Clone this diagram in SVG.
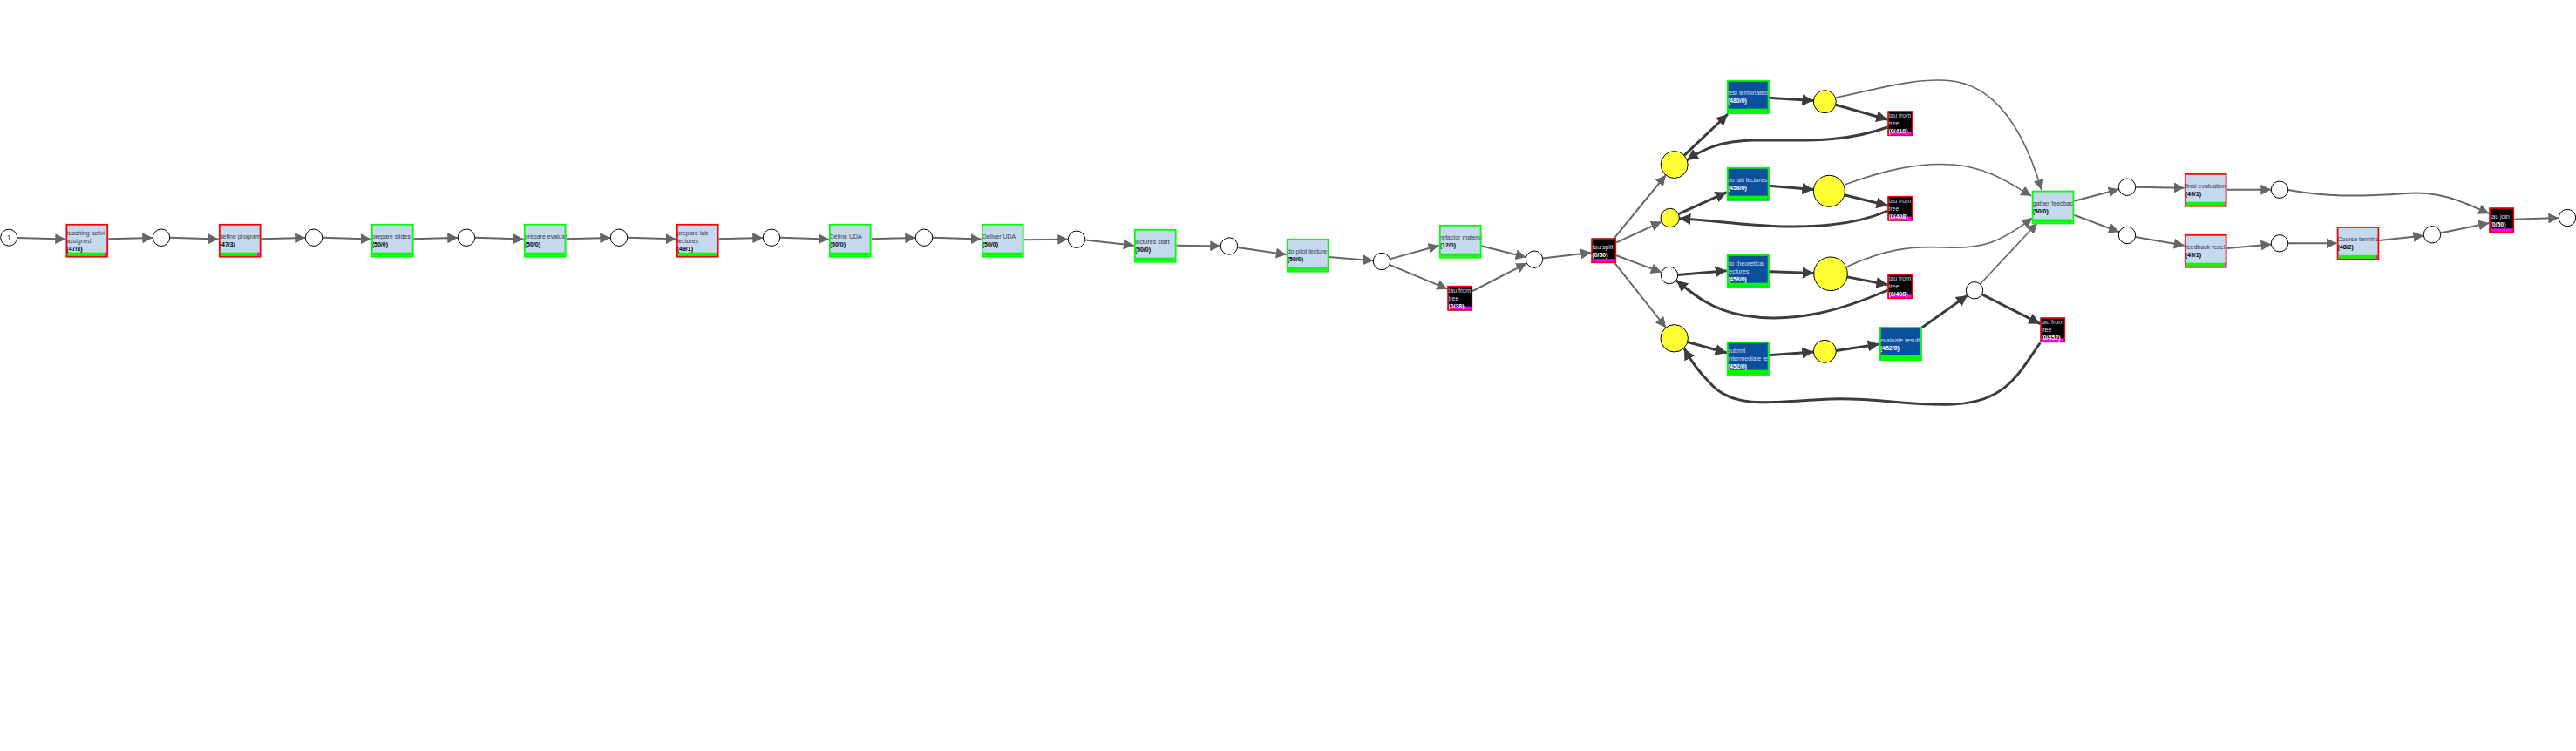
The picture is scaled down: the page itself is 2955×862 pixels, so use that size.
<svg xmlns="http://www.w3.org/2000/svg" width="2955" height="862" viewBox="0 0 2955 862">
<style>
.nm{font-family:"Liberation Sans",Arial,sans-serif;font-size:7px}
.ct{font-family:"Liberation Sans",Arial,sans-serif;font-size:7px;font-weight:bold}
.lt .nm{fill:#3a3a46}.lt .ct{fill:#000}
.dk .nm{fill:#d6ddf5}.dk .ct{fill:#fff}
.lf{fill:#c5d9ee}.df{fill:#0a509c}.tf{fill:#000}
.bg{fill:#00ff00}.bm{fill:#ff00ff}
.br{fill:none;stroke:#ff0000;stroke-width:2}
.bgr{fill:none;stroke:#00ff00;stroke-width:2}
.brt{fill:none;stroke:#ff0000;stroke-width:1.5}
.pl{fill:#fff;stroke:#000;stroke-width:1}
.py{fill:#ffff33;stroke:#000;stroke-width:1}
.e{fill:none;stroke:#666;stroke-width:2;marker-end:url(#ag)}
.c{fill:none;stroke:#666;stroke-width:1.6;marker-end:url(#ag)}
.d{fill:none;stroke:#3c3c3c;stroke-width:3;marker-end:url(#ad)}
</style>
<defs>
<marker id="ag" markerUnits="userSpaceOnUse" markerWidth="12" markerHeight="12" refX="12" refY="6" orient="auto"><path d="M0,0 L12,6 L0,12 z" fill="#666"/></marker>
<marker id="ad" markerUnits="userSpaceOnUse" markerWidth="13" markerHeight="13" refX="13" refY="6.5" orient="auto"><path d="M0,0 L13,6.5 L0,13 z" fill="#3c3c3c"/></marker>
</defs>
<rect width="2955" height="862" fill="#fff"/>
<g id="connectors">
<path class="e" d="M20,273 L75.3,274.5"/>
<path class="e" d="M124.3,274.3 L175.3,272.9"/>
<path class="e" d="M194.7,272.7 L250.7,274.5"/>
<path class="e" d="M299.3,274.3 L350.3,272.9"/>
<path class="e" d="M369.7,272.7 L425.7,274.5"/>
<path class="e" d="M474.3,274.3 L525.3,272.9"/>
<path class="e" d="M544.7,272.7 L600.7,274.5"/>
<path class="e" d="M649.7,274.3 L700.3,272.9"/>
<path class="e" d="M719.7,272.7 L775.7,274.5"/>
<path class="e" d="M824.3,274.3 L875.3,272.9"/>
<path class="e" d="M894.7,272.7 L950.7,274.5"/>
<path class="e" d="M999.7,274.3 L1050.3,272.9"/>
<path class="e" d="M1069.7,272.7 L1125.7,274.5"/>
<path class="e" d="M1174.3,275.3 L1225.3,274.7"/>
<path class="e" d="M1244.7,275.4 L1300.7,281.7"/>
<path class="e" d="M1349.3,281.7 L1400.3,282.4"/>
<path class="e" d="M1419.6,284 L1475.7,292.3"/>
<path class="e" d="M1524.3,295 L1575.4,299.3"/>
<path class="e" d="M1594.3,297.4 L1650.7,281.7"/>
<path class="e" d="M1593.9,303.8 L1660.3,331.7"/>
<path class="e" d="M1699.3,282.3 L1750.6,295.3"/>
<path class="e" d="M1689.3,334 L1751.4,302.1"/>
<path class="e" d="M1769.6,296.6 L1825.3,290"/>
<path class="e" d="M1851.7,273.3 L1910.9,201"/>
<path class="e" d="M1854.3,278.3 L1906,254.5"/>
<path class="e" d="M1854.3,293.3 L1905.9,312.6"/>
<path class="e" d="M1852.7,302.3 L1911,376"/>
<path class="d" d="M1932,178.4 L1982,131"/>
<path class="d" d="M2029.3,112.3 L2080.3,115.6"/>
<path class="d" d="M2105.8,120.3 L2165.3,137.3"/>
<path class="d" d="M1925.5,245.6 L1980.7,220.7"/>
<path class="d" d="M2029.3,213.3 L2080.3,217.6"/>
<path class="d" d="M2115.8,223.7 L2165.3,236"/>
<path class="d" d="M1924.7,315.4 L1980.7,310.7"/>
<path class="d" d="M2029.3,311.7 L2080.7,313.6"/>
<path class="d" d="M2119,317.9 L2165.3,326.7"/>
<path class="d" d="M1935.8,392.5 L1980.7,405"/>
<path class="d" d="M2029.3,407.7 L2080.3,404"/>
<path class="d" d="M2106.3,402.5 L2155.7,395"/>
<path class="d" d="M2204.7,376 L2257.1,338.9"/>
<path class="d" d="M2273.6,337.8 L2340.3,371.7"/>
<path class="d" d="M2165.3,146 C2110,166 2060,160 2010,161 C1975,162 1955,170 1935,184"/>
<path class="d" d="M2165.3,242 C2120,262 2060,262 2010,258 C1975,255 1950,252 1926.4,250.7"/>
<path class="d" d="M2165.3,333 C2115,355 2060,372 2000,362 C1965,356 1945,340 1923,322"/>
<path class="d" d="M2340.3,393.5 C2315,430 2300,462 2240,464 C2190,466 2150,456 2100,458 C2040,460 1990,472 1962,440 C1950,428 1940,415 1932,400"/>
<path class="c" d="M2106,112 C2150,103 2200,88 2240,93 C2290,100 2322,150 2342,218.3"/>
<path class="c" d="M2116,212 C2160,196 2200,186 2240,189 C2280,192 2305,210 2330.3,225"/>
<path class="c" d="M2119,306 C2160,287 2190,282 2230,284 C2275,286 2295,278 2331.5,250"/>
<path class="c" d="M2271.5,326 L2337,256"/>
<path class="e" d="M2379.3,230.7 L2430.6,217.2"/>
<path class="e" d="M2379.3,246.7 L2431,266.3"/>
<path class="e" d="M2449.7,214.7 L2505.7,215.7"/>
<path class="e" d="M2554.3,217.7 L2605.3,217.7"/>
<path class="e" d="M2449.5,272 L2505.7,281.7"/>
<path class="e" d="M2554.3,285 L2605.5,280.5"/>
<path class="e" d="M2624.7,279.3 L2680.5,279.3"/>
<path class="e" d="M2624.7,218 C2670,226 2700,226 2760,222 C2800,219 2825,232 2855.3,245"/>
<path class="e" d="M2729.3,276 L2780.4,270.5"/>
<path class="e" d="M2799.5,267.4 L2855.3,256"/>
<path class="e" d="M2884.3,251.7 L2935.3,250.1"/>
</g>
<g id="places">
<g id="p0"><circle class="pl" cx="10.2" cy="272.7" r="9.5"/><text x="10.2" y="276" text-anchor="middle" font-family="Liberation Sans, Arial, sans-serif" font-size="9" fill="#333">1</text></g>
<g id="p1"><circle class="pl" cx="185" cy="272.7" r="9.7"/></g>
<g id="p2"><circle class="pl" cx="360" cy="272.7" r="9.7"/></g>
<g id="p3"><circle class="pl" cx="535" cy="272.7" r="9.7"/></g>
<g id="p4"><circle class="pl" cx="710" cy="272.7" r="9.7"/></g>
<g id="p5"><circle class="pl" cx="885" cy="272.7" r="9.7"/></g>
<g id="p6"><circle class="pl" cx="1060" cy="272.7" r="9.7"/></g>
<g id="p7"><circle class="pl" cx="1235" cy="274.7" r="9.7"/></g>
<g id="p8"><circle class="pl" cx="1410" cy="282.5" r="9.7"/></g>
<g id="p9"><circle class="pl" cx="1585" cy="300" r="9.7"/></g>
<g id="p10"><circle class="pl" cx="1760" cy="297.7" r="9.7"/></g>
<g id="y1"><circle class="py" cx="1920.7" cy="189" r="15.5"/></g>
<g id="y1b"><circle class="py" cx="2093.3" cy="116.7" r="13"/></g>
<g id="y2"><circle class="py" cx="1915.7" cy="250" r="10.7"/></g>
<g id="y2b"><circle class="py" cx="2098.3" cy="219.3" r="18"/></g>
<g id="w1"><circle class="pl" cx="1915" cy="316" r="9.7"/></g>
<g id="y3b"><circle class="py" cx="2100" cy="314.3" r="19.3"/></g>
<g id="y4"><circle class="py" cx="1920.7" cy="388.3" r="15.7"/></g>
<g id="y4b"><circle class="py" cx="2093.3" cy="403.3" r="13"/></g>
<g id="w2"><circle class="pl" cx="2265" cy="333.3" r="9.7"/></g>
<g id="pa"><circle class="pl" cx="2440" cy="214.7" r="9.7"/></g>
<g id="pb"><circle class="pl" cx="2440" cy="270" r="9.7"/></g>
<g id="pc"><circle class="pl" cx="2615" cy="217.7" r="9.7"/></g>
<g id="pd"><circle class="pl" cx="2615" cy="279.3" r="9.7"/></g>
<g id="pe"><circle class="pl" cx="2790" cy="269.3" r="9.7"/></g>
<g id="pend"><circle class="pl" cx="2945" cy="250" r="9.7"/></g>
</g>
<g id="t1" class="lt"><svg x="75.3" y="256.7" width="49" height="39"><rect class="lf" width="49" height="39"/><rect class="bg" x="2" y="33" width="42.3" height="4"/><rect class="bm" x="44.3" y="33" width="2.7" height="4"/><text class="nm" x="1" y="13">teaching activi</text><text class="nm" x="1" y="22">assigned</text><text class="ct" x="1" y="31">(47/3)</text><rect class="br" x="1" y="1" width="47" height="37"/></svg></g>
<g id="t2" class="lt"><svg x="250.7" y="256.7" width="49" height="39"><rect class="lf" width="49" height="39"/><rect class="bg" x="2" y="33" width="42.3" height="4"/><rect class="bm" x="44.3" y="33" width="2.7" height="4"/><text class="nm" x="1" y="17.5">define program</text><text class="ct" x="1" y="26.5">(47/3)</text><rect class="br" x="1" y="1" width="47" height="37"/></svg></g>
<g id="t3" class="lt"><svg x="425.7" y="256.7" width="49" height="39"><rect class="lf" width="49" height="39"/><rect class="bg" x="2" y="33" width="45" height="4"/><text class="nm" x="1" y="17.5">prepare slides</text><text class="ct" x="1" y="26.5">(50/0)</text><rect class="bgr" x="1" y="1" width="47" height="37"/></svg></g>
<g id="t4" class="lt"><svg x="600.7" y="256.7" width="49" height="39"><rect class="lf" width="49" height="39"/><rect class="bg" x="2" y="33" width="45" height="4"/><text class="nm" x="1" y="17.5">prepare evaluat</text><text class="ct" x="1" y="26.5">(50/0)</text><rect class="bgr" x="1" y="1" width="47" height="37"/></svg></g>
<g id="t5" class="lt"><svg x="775.7" y="256.7" width="49" height="39"><rect class="lf" width="49" height="39"/><rect class="bg" x="2" y="33" width="44.1" height="4"/><rect class="bm" x="46.1" y="33" width="0.9" height="4"/><text class="nm" x="1" y="13">prepare lab</text><text class="nm" x="1" y="22">lectures</text><text class="ct" x="1" y="31">(49/1)</text><rect class="br" x="1" y="1" width="47" height="37"/></svg></g>
<g id="t6" class="lt"><svg x="950.7" y="256.7" width="49" height="39"><rect class="lf" width="49" height="39"/><rect class="bg" x="2" y="33" width="45" height="4"/><text class="nm" x="1" y="17.5">Define UDA</text><text class="ct" x="1" y="26.5">(50/0)</text><rect class="bgr" x="1" y="1" width="47" height="37"/></svg></g>
<g id="t7" class="lt"><svg x="1125.7" y="256.7" width="49" height="39"><rect class="lf" width="49" height="39"/><rect class="bg" x="2" y="33" width="45" height="4"/><text class="nm" x="1" y="17.5">Deliver UDA</text><text class="ct" x="1" y="26.5">(50/0)</text><rect class="bgr" x="1" y="1" width="47" height="37"/></svg></g>
<g id="t8" class="lt"><svg x="1300.7" y="262.7" width="49" height="39"><rect class="lf" width="49" height="39"/><rect class="bg" x="2" y="33" width="45" height="4"/><text class="nm" x="1" y="17.5">lectures start</text><text class="ct" x="1" y="26.5">(50/0)</text><rect class="bgr" x="1" y="1" width="47" height="37"/></svg></g>
<g id="t9" class="lt"><svg x="1475.7" y="273.7" width="49" height="39"><rect class="lf" width="49" height="39"/><rect class="bg" x="2" y="33" width="45" height="4"/><text class="nm" x="1" y="17.5">do pilot lecture</text><text class="ct" x="1" y="26.5">(50/0)</text><rect class="bgr" x="1" y="1" width="47" height="37"/></svg></g>
<g id="t10" class="lt"><svg x="1650.7" y="257.7" width="49" height="39"><rect class="lf" width="49" height="39"/><rect class="bg" x="2" y="33" width="45" height="4"/><text class="nm" x="1" y="17.5">refactor materia</text><text class="ct" x="1" y="26.5">(12/0)</text><rect class="bgr" x="1" y="1" width="47" height="37"/></svg></g>
<g id="tau1" class="dk"><svg x="1660.3" y="327.7" width="29" height="29"><rect class="tf" width="29" height="29"/><rect class="bm" x="1.5" y="24" width="26" height="3.5"/><text class="nm" x="1" y="8">tau from</text><text class="nm" x="1" y="17">tree</text><text class="ct" x="1" y="26">(0/38)</text><rect class="brt" x="0.75" y="0.75" width="27.5" height="27.5"/></svg></g>
<g id="tausplit" class="dk"><svg x="1825.3" y="273.3" width="29" height="29"><rect class="tf" width="29" height="29"/><rect class="bm" x="1.5" y="24" width="26" height="3.5"/><text class="nm" x="1" y="12.5">tau split</text><text class="ct" x="1" y="21.5">(0/50)</text><rect class="brt" x="0.75" y="0.75" width="27.5" height="27.5"/></svg></g>
<g id="b1" class="dk"><svg x="1980.7" y="91.7" width="49" height="39"><rect class="df" width="49" height="39"/><rect class="bg" x="2" y="33" width="45" height="4"/><text class="nm" x="1" y="17.5">test terminated</text><text class="ct" x="1" y="26.5">(480/0)</text><rect class="bgr" x="1" y="1" width="47" height="37"/></svg></g>
<g id="tau2" class="dk"><svg x="2165.3" y="127.3" width="29" height="29"><rect class="tf" width="29" height="29"/><rect class="bm" x="1.5" y="24" width="26" height="3.5"/><text class="nm" x="1" y="8">tau from</text><text class="nm" x="1" y="17">tree</text><text class="ct" x="1" y="26">(0/410)</text><rect class="brt" x="0.75" y="0.75" width="27.5" height="27.5"/></svg></g>
<g id="b2" class="dk"><svg x="1980.7" y="191.7" width="49" height="39"><rect class="df" width="49" height="39"/><rect class="bg" x="2" y="33" width="45" height="4"/><text class="nm" x="1" y="17.5">do lab lectures</text><text class="ct" x="1" y="26.5">(458/0)</text><rect class="bgr" x="1" y="1" width="47" height="37"/></svg></g>
<g id="tau3" class="dk"><svg x="2165.3" y="224.7" width="29" height="29"><rect class="tf" width="29" height="29"/><rect class="bm" x="1.5" y="24" width="26" height="3.5"/><text class="nm" x="1" y="8">tau from</text><text class="nm" x="1" y="17">tree</text><text class="ct" x="1" y="26">(0/408)</text><rect class="brt" x="0.75" y="0.75" width="27.5" height="27.5"/></svg></g>
<g id="b3" class="dk"><svg x="1980.7" y="291.7" width="49" height="39"><rect class="df" width="49" height="39"/><rect class="bg" x="2" y="33" width="45" height="4"/><text class="nm" x="1" y="13">do theoretical</text><text class="nm" x="1" y="22">lectures</text><text class="ct" x="1" y="31">(458/0)</text><rect class="bgr" x="1" y="1" width="47" height="37"/></svg></g>
<g id="tau4" class="dk"><svg x="2165.3" y="314.3" width="29" height="29"><rect class="tf" width="29" height="29"/><rect class="bm" x="1.5" y="24" width="26" height="3.5"/><text class="nm" x="1" y="8">tau from</text><text class="nm" x="1" y="17">tree</text><text class="ct" x="1" y="26">(0/408)</text><rect class="brt" x="0.75" y="0.75" width="27.5" height="27.5"/></svg></g>
<g id="b4" class="dk"><svg x="1980.7" y="391.7" width="49" height="39"><rect class="df" width="49" height="39"/><rect class="bg" x="2" y="33" width="45" height="4"/><text class="nm" x="1" y="13">submit</text><text class="nm" x="1" y="22">intermediate te</text><text class="ct" x="1" y="31">(452/0)</text><rect class="bgr" x="1" y="1" width="47" height="37"/></svg></g>
<g id="b5" class="dk"><svg x="2155.7" y="375" width="49" height="39"><rect class="df" width="49" height="39"/><rect class="bg" x="2" y="33" width="45" height="4"/><text class="nm" x="1" y="17.5">evaluate results</text><text class="ct" x="1" y="26.5">(452/0)</text><rect class="bgr" x="1" y="1" width="47" height="37"/></svg></g>
<g id="tau5" class="dk"><svg x="2340.3" y="364.3" width="29" height="29"><rect class="tf" width="29" height="29"/><rect class="bm" x="1.5" y="24" width="26" height="3.5"/><text class="nm" x="1" y="8">tau from</text><text class="nm" x="1" y="17">tree</text><text class="ct" x="1" y="26">(0/452)</text><rect class="brt" x="0.75" y="0.75" width="27.5" height="27.5"/></svg></g>
<g id="gather" class="lt"><svg x="2330.5" y="218.5" width="49" height="39"><rect class="lf" width="49" height="39"/><rect class="bg" x="2" y="33" width="45" height="4"/><text class="nm" x="1" y="17.5">gather feedbac</text><text class="ct" x="1" y="26.5">(50/0)</text><rect class="bgr" x="1" y="1" width="47" height="37"/></svg></g>
<g id="final" class="lt"><svg x="2505.7" y="198.7" width="49" height="39"><rect class="lf" width="49" height="39"/><rect class="bg" x="2" y="33" width="44.1" height="4"/><rect class="bm" x="46.1" y="33" width="0.9" height="4"/><text class="nm" x="1" y="17.5">final evaluation</text><text class="ct" x="1" y="26.5">(49/1)</text><rect class="br" x="1" y="1" width="47" height="37"/></svg></g>
<g id="feedback" class="lt"><svg x="2505.7" y="268.7" width="49" height="39"><rect class="lf" width="49" height="39"/><rect class="bg" x="2" y="33" width="44.1" height="4"/><rect class="bm" x="46.1" y="33" width="0.9" height="4"/><text class="nm" x="1" y="17.5">feedback recei</text><text class="ct" x="1" y="26.5">(49/1)</text><rect class="br" x="1" y="1" width="47" height="37"/></svg></g>
<g id="course" class="lt"><svg x="2680.5" y="259.8" width="49" height="39"><rect class="lf" width="49" height="39"/><rect class="bg" x="2" y="33" width="43.2" height="4"/><rect class="bm" x="45.2" y="33" width="1.8" height="4"/><text class="nm" x="1" y="17.5">Course termina</text><text class="ct" x="1" y="26.5">(48/2)</text><rect class="br" x="1" y="1" width="47" height="37"/></svg></g>
<g id="taujoin" class="dk"><svg x="2855.3" y="238.3" width="29" height="29"><rect class="tf" width="29" height="29"/><rect class="bm" x="1.5" y="24" width="26" height="3.5"/><text class="nm" x="1" y="12.5">tau join</text><text class="ct" x="1" y="21.5">(0/50)</text><rect class="brt" x="0.75" y="0.75" width="27.5" height="27.5"/></svg></g>
</svg>
